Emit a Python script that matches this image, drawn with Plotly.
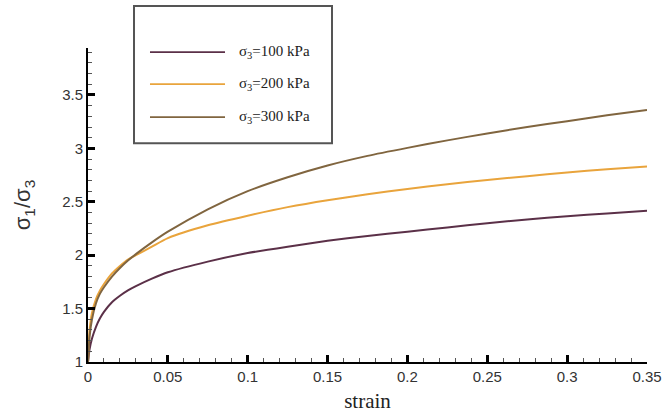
import plotly.graph_objects as go

# ---- data ----
strain = [0, 0.001, 0.0025, 0.005, 0.0075, 0.01, 0.015, 0.02, 0.025, 0.03, 0.04, 0.05,
          0.075, 0.1, 0.125, 0.15, 0.175, 0.2, 0.225, 0.25, 0.275, 0.3, 0.325, 0.35]
ratio_100 = [1.0, 1.12, 1.22, 1.33, 1.41, 1.47, 1.56, 1.62, 1.67, 1.71, 1.78, 1.84,
             1.94, 2.02, 2.08, 2.135, 2.18, 2.22, 2.26, 2.30, 2.335, 2.365, 2.39, 2.415]
ratio_200 = [1.0, 1.30, 1.46, 1.59, 1.67, 1.73, 1.83, 1.90, 1.96, 2.00, 2.08, 2.16,
             2.28, 2.37, 2.45, 2.515, 2.57, 2.62, 2.665, 2.705, 2.74, 2.775, 2.805, 2.83]
ratio_300 = [1.0, 1.24, 1.40, 1.55, 1.64, 1.70, 1.80, 1.88, 1.95, 2.01, 2.12, 2.22,
             2.43, 2.60, 2.73, 2.84, 2.93, 3.005, 3.075, 3.14, 3.20, 3.255, 3.31, 3.36]
series_names = ["σ<sub>3</sub>=100 kPa", "σ<sub>3</sub>=200 kPa", "σ<sub>3</sub>=300 kPa"]
series_values = [ratio_100, ratio_200, ratio_300]
colors = ["#5b3048", "#e9a43c", "#80653f"]

fig = go.Figure()
for name, vals, col in zip(series_names, series_values, colors):
    fig.add_trace(go.Scatter(x=strain, y=vals, mode="lines", name=name,
                             line=dict(color=col, width=2, shape="spline", smoothing=0.6),
                             showlegend=False))

# ---- custom legend box (paper coordinates) ----
box = dict(x0=0.0823, x1=0.4365, y0=0.697, y1=1.134)
fig.add_shape(type="rect", xref="paper", yref="paper", **box,
              line=dict(color="#555555", width=2), fillcolor="white", layer="above")
leg_y = [0.987, 0.885, 0.780]
for name, col, yy in zip(series_names, colors, leg_y):
    fig.add_shape(type="line", xref="paper", yref="paper", x0=0.1109, x1=0.2451,
                  y0=yy, y1=yy, line=dict(color=col, width=1.8), layer="above")
    fig.add_annotation(xref="paper", yref="paper", x=0.2665, y=yy, xanchor="left",
                       yanchor="middle", text=name, showarrow=False,
                       font=dict(family="Liberation Serif, Times New Roman, serif",
                                 size=15, color="#222222"))

axis_common = dict(showline=True, linecolor="black", linewidth=2, mirror=False,
                   showgrid=False, zeroline=False, ticks="inside", ticklen=7,
                   tickwidth=3, tickcolor="black", automargin=False,
                   tickfont=dict(family="Liberation Sans, Arial, sans-serif", size=15,
                                 color="#333333"))

fig.update_xaxes(range=[0, 0.35], dtick=0.05, tick0=0,
                 minor=dict(dtick=0.01, ticks="inside", ticklen=4, tickwidth=1,
                            tickcolor="#555555"),
                 title=dict(text="strain", standoff=9,
                            font=dict(family="Liberation Serif, Times New Roman, serif",
                                      size=21, color="#222222")),
                 **axis_common)
fig.update_yaxes(range=[1, 3.94], dtick=0.5, tick0=1,
                 minor=dict(dtick=0.1, ticks="inside", ticklen=4, tickwidth=1,
                            tickcolor="#555555"),
                 title=dict(text="σ<sub>1</sub>/σ<sub>3</sub>", standoff=25,
                            font=dict(family="Liberation Sans, Arial, sans-serif",
                                      size=22, color="#333333")),
                 **axis_common)

fig.update_layout(width=664, height=416, plot_bgcolor="white", paper_bgcolor="white",
                  margin=dict(l=88, r=17, t=48, b=54, autoexpand=False), showlegend=False)

fig.write_html("out.html", config={"displayModeBar": False},
               post_script="document.body.style.margin='0';document.body.style.overflow='hidden';")
